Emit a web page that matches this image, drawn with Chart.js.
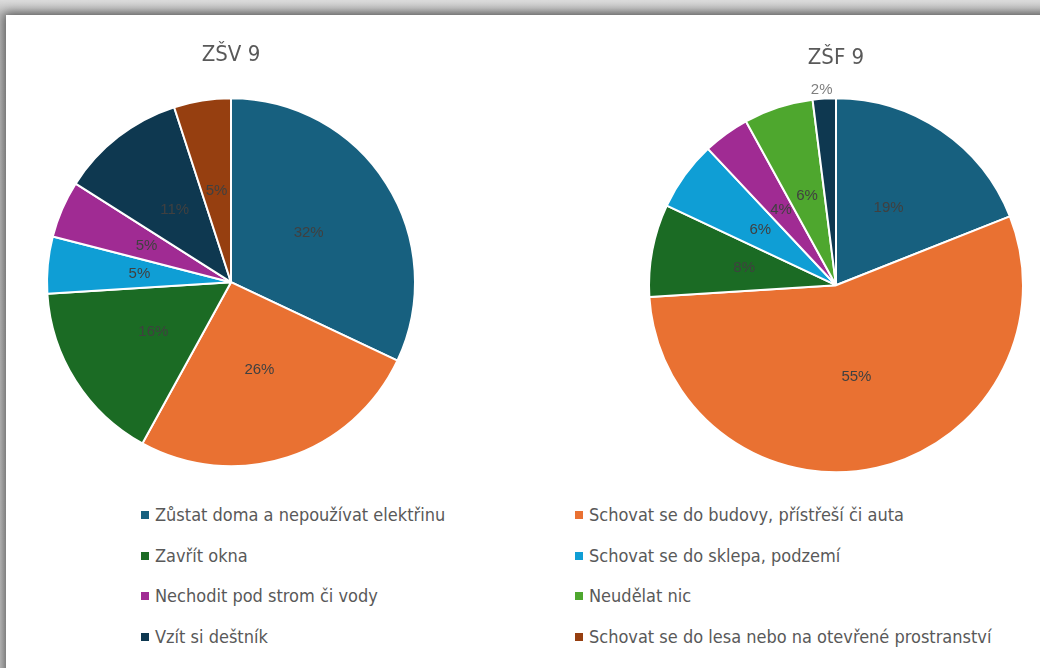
<!DOCTYPE html>
<html>
<head>
<meta charset="utf-8">
<script src="https://cdn.jsdelivr.net/npm/chart.js@4.4.1/dist/chart.umd.min.js"></script>
<style>
  html, body { margin: 0; padding: 0; }
  body {
    width: 1040px; height: 668px; overflow: hidden; position: relative;
    background: linear-gradient(#dcdcdc, #bdbdbd 15px, #c8c8c8);
  }
  #card {
    position: absolute; left: 6px; top: 15px; width: 1060px; height: 680px;
    background: #fff; box-shadow: 0 0 10px 2px rgba(0,0,0,0.55);
  }
  .box { position: absolute; }
  #legend { position: absolute; left: 0; top: 0; }
  .item {
    position: absolute; font-family: "Liberation Sans Narrow", "DejaVu Sans Condensed", sans-serif;
    font-size: 18px; color: #595959; white-space: nowrap; line-height: 20px;
  }
  .item i {
    display: inline-block; width: 8px; height: 8px; margin-right: 6px; vertical-align: 2px;
  }
</style>
</head>
<body>
<div id="card"></div>
<div class="box" style="left:0;top:0;width:462px;height:496px"><canvas id="zsv"></canvas></div>
<div class="box" style="left:600px;top:0;width:472px;height:499px"><canvas id="zsf"></canvas></div>
<div id="legend"></div>
<script>
const categories = [
  "Zůstat doma a nepoužívat elektřinu",
  "Schovat se do budovy, přístřeší či auta",
  "Zavřít okna",
  "Schovat se do sklepa, podzemí",
  "Nechodit pod strom či vody",
  "Neudělat nic",
  "Vzít si deštník",
  "Schovat se do lesa nebo na otevřené prostranství"
];
const colors = ["#17607f", "#e97132", "#1b6b24", "#0f9ed5", "#a02b93", "#4ea72e", "#0e3850", "#963f10"];

// percentages
const zsvValues = [32, 26, 16, 5, 5, 0, 11, 5];
const zsfValues = [19, 55, 8, 6, 4, 6, 2, 0];

const pctLabels = {
  id: "pctLabels",
  afterDatasetsDraw(chart) {
    const ctx = chart.ctx;
    const meta = chart.getDatasetMeta(0);
    const data = chart.data.datasets[0].data;
    const total = data.reduce((a, b) => a + b, 0);
    ctx.save();
    ctx.font = "15px 'Liberation Sans', Arial, sans-serif";
    ctx.textAlign = "center";
    ctx.textBaseline = "middle";
    meta.data.forEach((arc, i) => {
      const v = data[i];
      if (!v) return;
      const txt = Math.round(v / total * 100) + "%";
      let x, y;
      if (v / total < 0.03) {
        // too thin: put it just outside the pie
        const mid = (arc.startAngle + arc.endAngle) / 2;
        x = arc.x + Math.cos(mid) * (arc.outerRadius + 9) - 2;
        y = arc.y + Math.sin(mid) * (arc.outerRadius + 9);
        ctx.fillStyle = "#7f7f7f";
      } else {
        const p = arc.getCenterPoint();
        x = p.x; y = p.y;
        ctx.fillStyle = "#404040";
      }
      ctx.fillText(txt, x, y);
    });
    ctx.restore();
  }
};

function createPie(canvas, title, values, titlePad, radius) {
  return new Chart(canvas, {
    type: "pie",
    data: {
      labels: categories,
      datasets: [{
        data: values,
        backgroundColor: colors,
        borderColor: "#ffffff",
        borderWidth: 2,
        hoverOffset: 0,
        radius
      }]
    },
    options: {
      responsive: true,
      maintainAspectRatio: false,
      animation: false,
      plugins: {
        legend: { display: false },
        tooltip: { enabled: false },
        title: {
          display: true,
          text: title,
          color: "#595959",
          font: { family: "'Liberation Sans Narrow', 'DejaVu Sans Condensed', sans-serif", size: 22, weight: "normal" },
          padding: { top: titlePad, bottom: 0 }
        }
      }
    },
    plugins: [pctLabels]
  });
}

createPie(document.getElementById("zsv"), "ZŠV 9", zsvValues, 42, 184);
createPie(document.getElementById("zsf"), "ZŠF 9", zsfValues, 45, 187);

// shared legend, two columns
const legend = document.getElementById("legend");
categories.forEach((name, i) => {
  const el = document.createElement("div");
  el.className = "item";
  el.style.left = (i % 2 === 0 ? 141 : 575) + "px";
  el.style.top = (505 + Math.floor(i / 2) * 40.5) + "px";
  el.innerHTML = '<i style="background:' + colors[i] + '"></i>';
  el.appendChild(document.createTextNode(name));
  legend.appendChild(el);
});
</script>
</body>
</html>
